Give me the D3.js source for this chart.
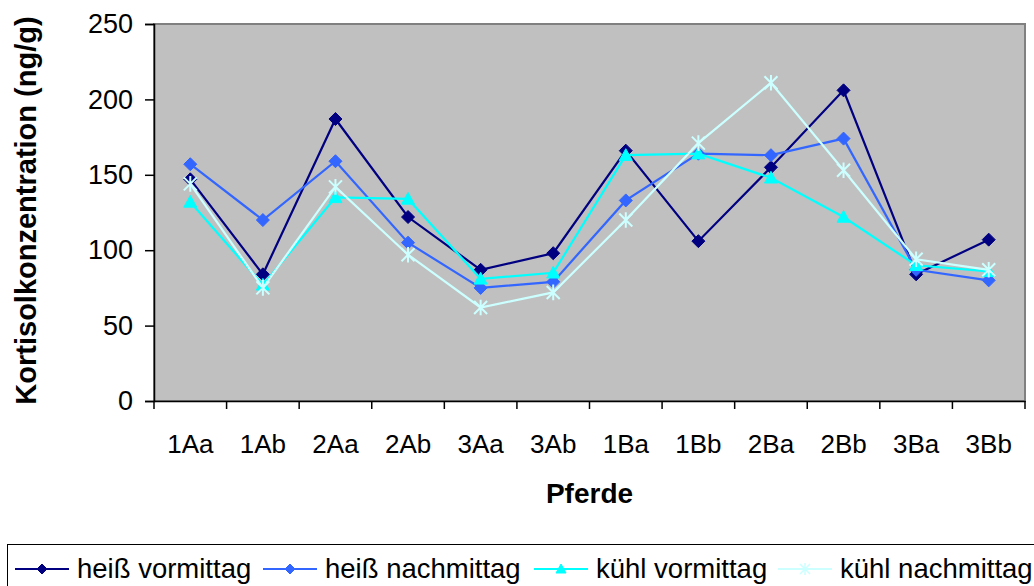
<!DOCTYPE html>
<html>
<head>
<meta charset="utf-8">
<script src="https://cdn.jsdelivr.net/npm/d3@7"></script>
<style>
  body { margin: 0; background: #fff; }
  text { font-family: "Liberation Sans", Arial, sans-serif; fill: #000; }
</style>
</head>
<body>
<div class="vis-linechart"></div>
<script>
// categories (Pferde)
const pferde = ["1Aa", "1Ab", "2Aa", "2Ab", "3Aa", "3Ab", "1Ba", "1Bb", "2Ba", "2Bb", "3Ba", "3Bb"];
const yTicks = [0, 50, 100, 150, 200, 250];

// series values
const heissVormittag = [147, 84, 187, 122, 87, 98, 166, 106, 155, 206, 84, 107];
const heissNachmittag = [157, 120, 159, 105, 75, 79, 133, 164, 163, 174, 87, 80];
const kuehlVormittag = [132, 77, 135, 134, 81, 85, 163, 164, 148, 122, 90, 86];
const kuehlNachmittag = [144, 75, 142, 97, 62, 72, 120, 171, 211, 153, 94, 87];

const seriesNames = ["heiß vormittag", "heiß nachmittag", "kühl vormittag", "kühl nachmittag"];
const seriesColors = ["#000080", "#3366FF", "#00FFFF", "#CCFFFF"];
const seriesMarkers = ["diamond", "diamond", "triangle", "star"];

const series = [heissVormittag, heissNachmittag, kuehlVormittag, kuehlNachmittag].map((vals, i) => ({
  name: seriesNames[i],
  color: seriesColors[i],
  marker: seriesMarkers[i],
  values: vals,
}));

const W = 1034, H = 586;
let margin = { top: 24, right: 9, bottom: 185, left: 154 };
const width = W - margin.left - margin.right;
const height = H - margin.top - margin.bottom;

const root = d3.select(".vis-linechart").append("svg")
  .attr("width", W).attr("height", H);

let svg = root.append("g")
  .attr("transform", "translate(" + margin.left + "," + margin.top + ")");

let x = d3.scaleBand().domain(pferde).range([0, width]).padding(0);
let y = d3.scaleLinear().domain([0, 250]).range([height, 0]);

// plot background + border
svg.append("rect")
  .attr("width", width).attr("height", height)
  .attr("fill", "#C0C0C0")
  .attr("stroke", "#808080").attr("stroke-width", 2);

// y axis
const yAxis = svg.append("g").attr("class", "y-axis")
  .call(d3.axisLeft(y).tickValues(yTicks).tickSize(9).tickPadding(12));
yAxis.select(".domain").attr("stroke", "#000").attr("stroke-width", 1.5);
yAxis.selectAll(".tick line").attr("stroke", "#000").attr("stroke-width", 1.5);
yAxis.selectAll("text").style("font-size", "27px").attr("font-family", null);

// x axis, ticks between categories
const xAxis = svg.append("g").attr("class", "x-axis")
  .attr("transform", "translate(0," + height + ")")
  .call(d3.axisBottom(x).tickSize(0).tickPadding(34));
xAxis.select(".domain").attr("stroke", "#000").attr("stroke-width", 1.5);
xAxis.selectAll("text").style("font-size", "26px").attr("font-family", null);
xAxis.selectAll(".sep")
  .data(pferde.map((p) => x(p)).concat([width]))
  .enter().append("line")
  .attr("class", "sep")
  .attr("x1", (d) => d).attr("x2", (d) => d)
  .attr("y1", 0).attr("y2", 8)
  .attr("stroke", "#000").attr("stroke-width", 1.5);

// axis titles
svg.append("text")
  .attr("transform", "rotate(-90)")
  .attr("x", 0 - height / 2 + 2)
  .attr("y", -118)
  .style("text-anchor", "middle")
  .style("font-size", "29px").style("font-weight", "bold")
  .text("Kortisolkonzentration (ng/g)");

svg.append("text")
  .attr("x", width / 2)
  .attr("y", height + 102)
  .style("text-anchor", "middle")
  .style("font-size", "28px").style("font-weight", "bold")
  .text("Pferde");

const markerPath = (type, s) => {
  if (type === "diamond") return `M0,${-s}L${s},0L0,${s}L${-s},0Z`;
  if (type === "triangle") return `M0,${-s}L${s},${s * 0.8}L${-s},${s * 0.8}Z`;
  return `M${-s},${-s}L${s},${s}M${-s},${s}L${s},${-s}M0,${-s * 1.2}L0,${s * 1.2}`;
};

let line = d3.line()
  .x((d, i) => x(pferde[i]) + x.bandwidth() / 2)
  .y((d) => y(d));

series.forEach((s) => {
  const g = svg.append("g");
  g.append("path")
    .datum(s.values)
    .attr("fill", "none")
    .attr("stroke", s.color)
    .attr("stroke-width", 2.2)
    .attr("d", line);
  g.selectAll(".dot")
    .data(s.values)
    .enter()
    .append("path")
    .attr("class", "dot")
    .attr("transform", (d, i) => `translate(${x(pferde[i]) + x.bandwidth() / 2},${y(d)})`)
    .attr("d", markerPath(s.marker, 6.5))
    .attr("fill", s.marker === "star" ? "none" : s.color)
    .attr("stroke", s.color)
    .attr("stroke-width", s.marker === "star" ? 2 : 1);
});

// legend
const legend = root.append("g");
legend.append("rect")
  .attr("x", 7.5).attr("y", 544.5)
  .attr("width", 1040).attr("height", 60)
  .attr("fill", "#fff").attr("stroke", "#000").attr("stroke-width", 1);

const legendX = [15, 263, 534, 778];
series.forEach((s, i) => {
  const lg = legend.append("g").attr("transform", `translate(${legendX[i]},569)`);
  lg.append("line")
    .attr("x1", 0).attr("x2", 54).attr("y1", 0).attr("y2", 0)
    .attr("stroke", s.color).attr("stroke-width", 2);
  lg.append("path")
    .attr("transform", "translate(27,0)")
    .attr("d", markerPath(s.marker, 5))
    .attr("fill", s.marker === "star" ? "none" : s.color)
    .attr("stroke", s.color)
    .attr("stroke-width", s.marker === "star" ? 1.5 : 1);
  lg.append("text")
    .attr("x", 62).attr("y", 9)
    .style("font-size", "27.5px")
    .text(s.name);
});
</script>
</body>
</html>
